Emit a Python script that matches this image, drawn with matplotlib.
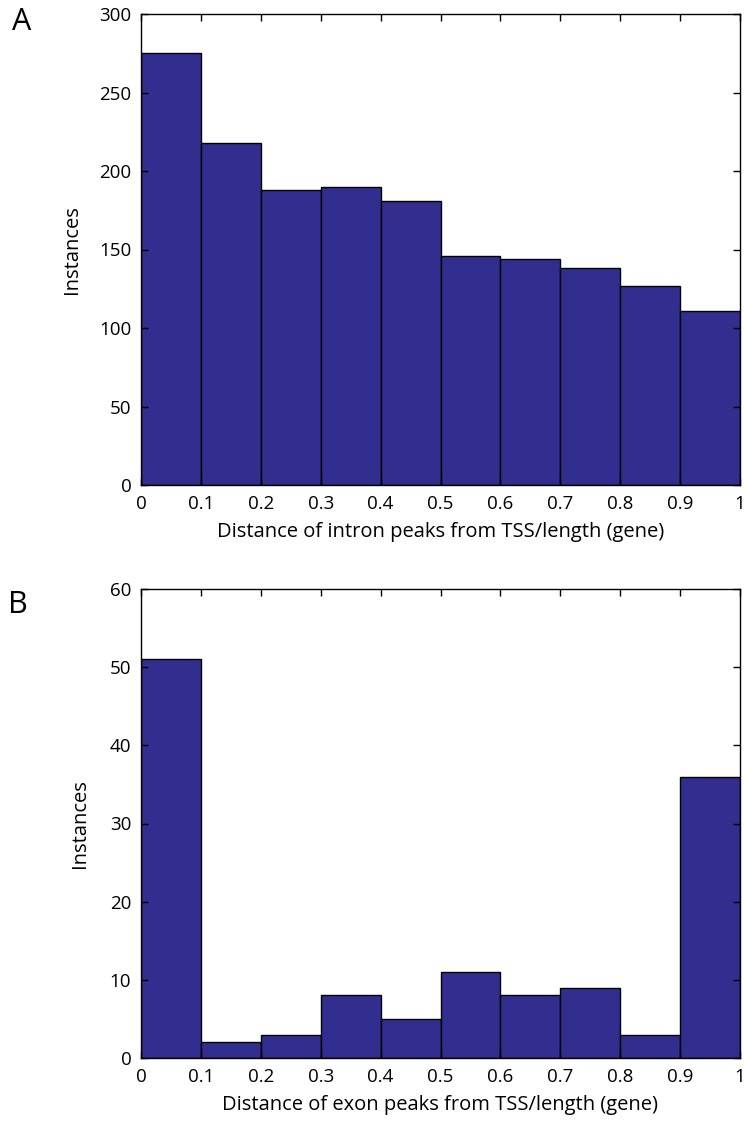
import matplotlib
matplotlib.use("Agg")
import matplotlib.pyplot as plt
import numpy as np

plt.rcParams['font.family'] = ['Open Sans', 'DejaVu Sans']

bin_edges = [0, 0.1, 0.2, 0.3, 0.4, 0.5, 0.6, 0.7, 0.8, 0.9, 1.0]
intron_counts = [275, 218, 188, 190, 181, 146, 144, 138, 127, 111]
exon_counts = [51, 2, 3, 8, 5, 11, 8, 9, 3, 36]
x_ticks = [0, 0.1, 0.2, 0.3, 0.4, 0.5, 0.6, 0.7, 0.8, 0.9, 1]
x_tick_labels = ['0', '0.1', '0.2', '0.3', '0.4', '0.5', '0.6', '0.7', '0.8', '0.9', '1']
intron_yticks = [0, 50, 100, 150, 200, 250, 300]
exon_yticks = [0, 10, 20, 30, 40, 50, 60]

bar_color = '#322E90'

fig = plt.figure(figsize=(7.45, 11.26), dpi=100)
W, H = 745, 1126

def make_ax(left, top, right, bottom):
    return fig.add_axes([left / W, 1 - bottom / H, (right - left) / W, (bottom - top) / H])

axA = make_ax(141, 14, 740, 485)
axB = make_ax(141, 589, 740, 1058)

def draw(ax, counts, yticks, ymax, xlabel, ylabelpad):
    edges = np.array(bin_edges)
    ax.bar(edges[:-1], counts, width=np.diff(edges), align='edge',
           color=bar_color, edgecolor='black', linewidth=1.0)
    ax.set_xlim(0, 1)
    ax.set_ylim(0, ymax)
    ax.set_xticks(x_ticks)
    ax.set_xticklabels(x_tick_labels)
    ax.set_yticks(yticks)
    ax.tick_params(direction='in', top=True, right=True, length=5, width=1,
                   labelsize=13.5, pad=7)
    ax.set_ylabel('Instances', fontsize=14.5, labelpad=ylabelpad)
    ax.set_xlabel(xlabel, fontsize=14.5, labelpad=7)
    for s in ax.spines.values():
        s.set_linewidth(1.0)

draw(axA, intron_counts, intron_yticks, 300, 'Distance of intron peaks from TSS/length (gene)', 12)
draw(axB, exon_counts, exon_yticks, 60, 'Distance of exon peaks from TSS/length (gene)', 14)

fig.text(12 / W, 1 - 22 / H, 'A', fontsize=22, va='center', ha='left')
fig.text(8 / W, 1 - 605 / H, 'B', fontsize=22, va='center', ha='left')

fig.savefig('out.png', dpi=100)
